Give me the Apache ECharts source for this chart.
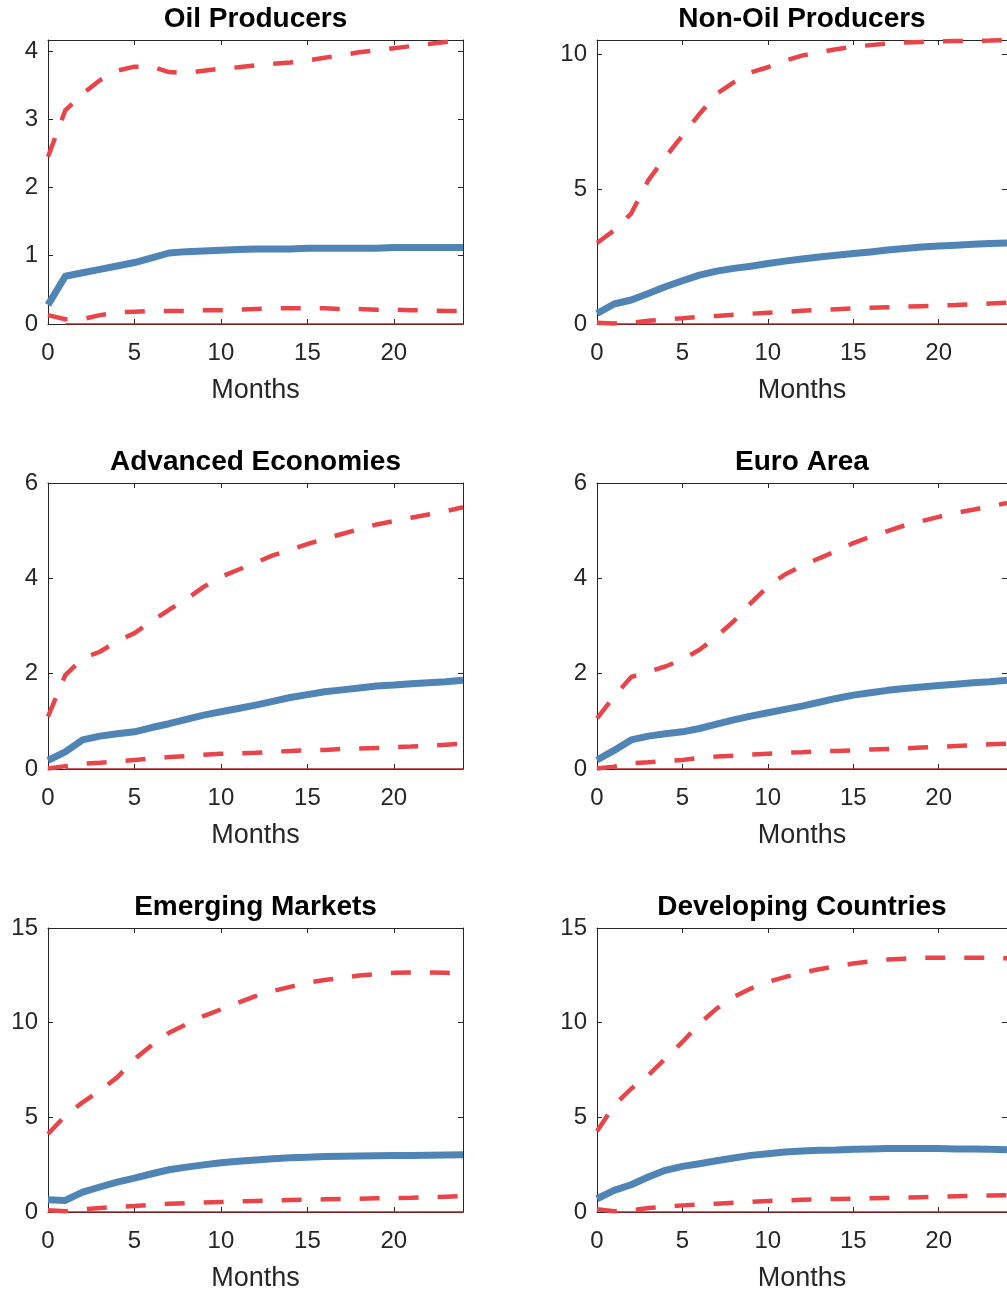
<!DOCTYPE html>
<html>
<head>
<meta charset="utf-8">
<title>Impulse responses by country group</title>
<script src="https://cdn.jsdelivr.net/npm/echarts@6/dist/echarts.min.js"></script>
<style>
  html, body { margin: 0; padding: 0; background: #ffffff; }
  #chart { width: 1007px; height: 1293px; }
</style>
</head>
<body>
<div id="chart"></div>
<script>
// Horizon in months (0..24)
const months = [0,1,2,3,4,5,6,7,8,9,10,11,12,13,14,15,16,17,18,19,20,21,22,23,24];

const panelTitles = ['Oil Producers', 'Non-Oil Producers', 'Advanced Economies', 'Euro Area', 'Emerging Markets', 'Developing Countries'];

// Point estimate (solid) and confidence band (dashed) for each group
const oilMedian = [0.28,0.70,0.75,0.80,0.85,0.90,0.97,1.04,1.06,1.07,1.08,1.09,1.10,1.10,1.10,1.11,1.11,1.11,1.11,1.11,1.12,1.12,1.12,1.12,1.12];
const oilUpper  = [2.45,3.13,3.37,3.57,3.71,3.77,3.77,3.69,3.68,3.71,3.74,3.76,3.79,3.81,3.83,3.86,3.90,3.94,3.98,4.01,4.04,4.07,4.10,4.13,4.16];
const oilLower  = [0.13,0.07,0.07,0.13,0.17,0.18,0.19,0.19,0.19,0.20,0.20,0.21,0.22,0.23,0.23,0.23,0.23,0.22,0.22,0.21,0.21,0.20,0.20,0.19,0.19];

const nonOilMedian = [0.39,0.74,0.89,1.13,1.38,1.60,1.81,1.96,2.06,2.14,2.24,2.33,2.41,2.48,2.55,2.61,2.67,2.74,2.80,2.85,2.89,2.92,2.95,2.98,3.00];
const nonOilUpper  = [3.00,3.47,4.09,5.32,6.18,6.98,7.78,8.52,8.95,9.32,9.51,9.75,9.94,10.06,10.18,10.27,10.33,10.39,10.43,10.45,10.47,10.48,10.49,10.50,10.52];
const nonOilLower  = [0.05,0.02,0.05,0.12,0.17,0.21,0.26,0.30,0.34,0.38,0.42,0.45,0.49,0.52,0.55,0.58,0.60,0.62,0.64,0.66,0.68,0.70,0.73,0.76,0.79];

const advMedian = [0.18,0.36,0.61,0.69,0.74,0.78,0.87,0.95,1.04,1.13,1.20,1.27,1.34,1.42,1.50,1.56,1.62,1.66,1.70,1.74,1.76,1.79,1.81,1.83,1.86];
const advUpper  = [1.10,1.97,2.32,2.46,2.68,2.85,3.10,3.34,3.56,3.82,4.03,4.18,4.33,4.48,4.60,4.72,4.83,4.93,5.03,5.13,5.20,5.27,5.34,5.41,5.49];
const advLower  = [0.01,0.06,0.11,0.13,0.16,0.19,0.22,0.25,0.27,0.30,0.32,0.33,0.34,0.36,0.38,0.39,0.40,0.42,0.43,0.44,0.46,0.47,0.49,0.51,0.53];

const euroMedian = [0.19,0.39,0.61,0.69,0.74,0.78,0.85,0.94,1.03,1.11,1.18,1.25,1.32,1.40,1.48,1.55,1.60,1.65,1.69,1.72,1.75,1.78,1.81,1.83,1.86];
const euroUpper  = [1.06,1.52,1.93,2.04,2.15,2.30,2.50,2.78,3.10,3.48,3.83,4.08,4.26,4.42,4.57,4.74,4.87,4.99,5.11,5.20,5.29,5.37,5.44,5.51,5.58];
const euroLower  = [0.01,0.05,0.12,0.14,0.17,0.19,0.23,0.26,0.28,0.30,0.32,0.34,0.35,0.37,0.38,0.39,0.41,0.42,0.43,0.45,0.46,0.48,0.50,0.52,0.53];

const emMedian = [0.65,0.61,1.05,1.32,1.58,1.79,2.02,2.23,2.37,2.49,2.60,2.68,2.75,2.81,2.86,2.89,2.93,2.95,2.96,2.97,2.98,2.99,3.00,3.01,3.02];
const emUpper  = [4.12,5.09,5.79,6.40,7.11,8.07,8.81,9.47,9.91,10.35,10.70,11.05,11.40,11.67,11.89,12.11,12.25,12.37,12.49,12.56,12.63,12.65,12.65,12.63,12.60];
const emLower  = [0.09,0.04,0.14,0.21,0.27,0.32,0.38,0.44,0.47,0.50,0.53,0.56,0.58,0.60,0.63,0.65,0.67,0.69,0.70,0.72,0.74,0.75,0.78,0.81,0.84];

const devMedian = [0.70,1.14,1.44,1.85,2.20,2.41,2.55,2.71,2.85,2.99,3.08,3.17,3.22,3.26,3.27,3.31,3.33,3.35,3.35,3.35,3.35,3.33,3.33,3.31,3.29];
const devUpper  = [4.26,5.63,6.51,7.22,8.10,8.98,9.95,10.74,11.36,11.80,12.15,12.41,12.64,12.82,12.99,13.12,13.24,13.33,13.38,13.42,13.43,13.43,13.43,13.42,13.40];
const devLower  = [0.14,0.04,0.09,0.21,0.28,0.35,0.40,0.44,0.49,0.54,0.58,0.61,0.65,0.67,0.69,0.70,0.72,0.74,0.76,0.78,0.80,0.83,0.85,0.87,0.88];

// Reference line at zero, drawn from month 1 onward
const zeroLine = months.slice(1).map(() => 0);

// Vertical axis ranges
const yMaxes    = [4.16, 10.52, 6, 6, 15, 15];
const yInterval = [1, 5, 2, 2, 5, 5];
const xMax = 24;
const xInterval = 5;

const medians = [oilMedian, nonOilMedian, advMedian, euroMedian, emMedian, devMedian];
const uppers  = [oilUpper, nonOilUpper, advUpper, euroUpper, emUpper, devUpper];
const lowers  = [oilLower, nonOilLower, advLower, euroLower, emLower, devLower];

// Layout of the 3x2 panel grid
const colLeft  = [48, 597];
const colWidth = [415, 416];
const rowTop    = [40, 483, 928];
const rowHeight = [284, 286, 285];

const FONT = '"Liberation Sans", Arial, Helvetica, sans-serif';
const AXIS_COLOR = '#262626';
const BLUE = '#4f84b4';
const RED = '#e8454b';
const ZERO_RED = '#c42127';

const pair = (xs, ys) => ys.map((v, k) => [xs[k], v]);

const grids = [], xAxes = [], yAxes = [], series = [];

panelTitles.forEach((title, i) => {
  const col = i % 2, row = Math.floor(i / 2);
  grids.push({ left: colLeft[col], top: rowTop[row], width: colWidth[col], height: rowHeight[row], containLabel: false });

  const baseLine = { show: true, onZero: false, lineStyle: { color: AXIS_COLOR, width: 1 } };
  const baseTick = { show: true, inside: true, length: 5, lineStyle: { color: AXIS_COLOR, width: 1 } };

  // bottom axis with labels and "Months"
  xAxes.push({
    gridIndex: i, type: 'value', position: 'bottom', min: 0, max: xMax, interval: xInterval,
    axisLine: baseLine, axisTick: baseTick, splitLine: { show: false },
    axisLabel: { show: true, margin: 17, fontSize: 24, color: AXIS_COLOR, fontFamily: FONT, showMaxLabel: false },
    name: 'Months', nameLocation: 'middle', nameGap: 53,
    nameTextStyle: { fontSize: 27, color: AXIS_COLOR, fontFamily: FONT }
  });
  // top axis closes the box and carries the panel title
  xAxes.push({
    gridIndex: i, type: 'value', position: 'top', min: 0, max: xMax, interval: xInterval,
    axisLine: baseLine, axisTick: baseTick, splitLine: { show: false }, axisLabel: { show: false },
    name: title, nameLocation: 'middle', nameGap: 7,
    nameTextStyle: { fontSize: 28, fontWeight: 'bold', color: '#000000', fontFamily: FONT }
  });

  const niceMax = Math.abs(yMaxes[i] / yInterval[i] - Math.round(yMaxes[i] / yInterval[i])) < 1e-9;
  yAxes.push({
    gridIndex: i, type: 'value', position: 'left', min: 0, max: yMaxes[i], interval: yInterval[i],
    axisLine: baseLine, axisTick: baseTick, splitLine: { show: false },
    axisLabel: { show: true, margin: 10, fontSize: 24, color: AXIS_COLOR, fontFamily: FONT, showMaxLabel: niceMax }
  });
  yAxes.push({
    gridIndex: i, type: 'value', position: 'right', min: 0, max: yMaxes[i], interval: yInterval[i],
    axisLine: baseLine, axisTick: baseTick, splitLine: { show: false }, axisLabel: { show: false }
  });

  const xi = 2 * i, yi = 2 * i;
  series.push({
    type: 'line', xAxisIndex: xi, yAxisIndex: yi, data: pair(months.slice(1), zeroLine),
    symbol: 'none', silent: true, z: 2,
    lineStyle: { color: ZERO_RED, width: 1.5 }
  });
  series.push({
    type: 'line', xAxisIndex: xi, yAxisIndex: yi, data: pair(months, lowers[i]),
    symbol: 'none', silent: true, z: 3,
    lineStyle: { color: RED, width: 4.5, type: [20, 19], cap: 'butt' }
  });
  series.push({
    type: 'line', xAxisIndex: xi, yAxisIndex: yi, data: pair(months, uppers[i]),
    symbol: 'none', silent: true, z: 3,
    lineStyle: { color: RED, width: 4.5, type: [20, 19], cap: 'butt' }
  });
  series.push({
    type: 'line', xAxisIndex: xi, yAxisIndex: yi, data: pair(months, medians[i]),
    symbol: 'none', silent: true, z: 4,
    lineStyle: { color: BLUE, width: 7, join: 'round' }
  });
});

const chart = echarts.init(document.getElementById('chart'), null, { renderer: 'canvas' });
chart.setOption({
  backgroundColor: '#ffffff',
  animation: false,
  textStyle: { fontFamily: FONT },
  grid: grids,
  xAxis: xAxes,
  yAxis: yAxes,
  series: series
});
</script>
</body>
</html>
